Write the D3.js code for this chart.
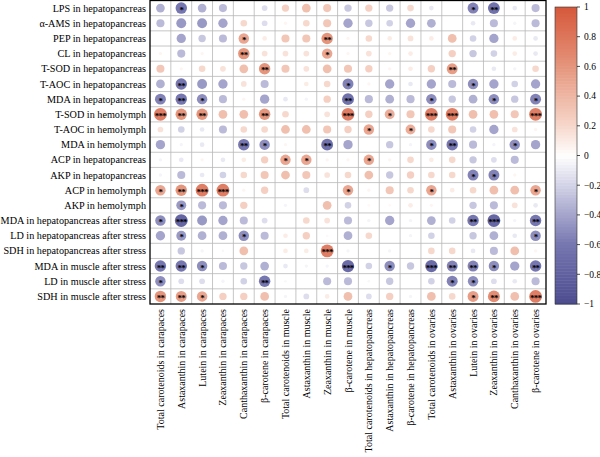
<!DOCTYPE html>
<html>
<head>
<meta charset="utf-8">
<script src="https://cdn.jsdelivr.net/npm/d3@7"></script>
<style>
  body { margin: 0; background: #fff; }
  text { font-family: "Liberation Serif", "DejaVu Serif", serif; }
</style>
</head>
<body>
<svg id="chart" width="600" height="457"></svg>
<script>
// row variables (indices)
const rowLabels = [
  "LPS in hepatopancreas", "\u03b1-AMS in hepatopancreas", "PEP in hepatopancreas",
  "CL in hepatopancreas", "T-SOD in hepatopancreas", "T-AOC in hepatopancreas",
  "MDA in hepatopancreas", "T-SOD in hemolymph", "T-AOC in hemolymph", "MDA in hemolymph",
  "ACP in hepatopancreas", "AKP in hepatopancreas", "ACP in hemolymph", "AKP in hemolymph",
  "MDA in hepatopancreas after stress", "LD in hepatopancreas after stress",
  "SDH in hepatopancreas after stress", "MDA in muscle after stress",
  "LD in muscle after stress", "SDH in muscle after stress"
];

// carotenoid columns
const colLabels = [
  "Total carotenoids in carapaces", "Astaxanthin in carapaces", "Lutein in carapaces",
  "Zeaxanthin in carapaces", "Canthaxanthin in carapaces", "\u03b2-carotene in carapaces",
  "Total carotenoids in muscle", "Astaxanthin in muscle", "Zeaxanthin in muscle",
  "\u03b2-carotene in muscle", "Total carotenoids in hepatopancreas",
  "Astaxanthin in hepatopancreas", "\u03b2-carotene in hepatopancreas",
  "Total carotenoids in ovaries", "Astaxanthin in ovaries", "Lutein in ovaries",
  "Zeaxanthin in ovaries", "Canthaxanthin in ovaries", "\u03b2-carotene in ovaries"
];

// correlation coefficients, one row per rowLabel
const corr = [
  [-0.35,-0.6,-0.35,-0.3,0,-0.15,0.25,0.35,0.3,-0.25,0.25,-0.25,0.2,-0.1,0,-0.55,-0.65,-0.1,-0.3],
  [-0.3,-0.45,-0.45,-0.4,0.2,-0.15,0.05,0.2,0.3,-0.4,-0.25,-0.2,-0.4,-0.35,0,-0.1,-0.3,-0.05,-0.3],
  [0,-0.4,-0.25,-0.3,0.5,0.1,0.3,0.3,0.6,0.05,0.2,0.1,0.15,0.1,0.35,-0.2,-0.4,0.1,-0.1],
  [0.05,-0.3,0.05,0,0.6,0.15,0.15,0.15,0.5,0.05,0.15,0.05,0.1,0,0.25,-0.25,-0.2,0.1,-0.1],
  [0.3,0.05,0.2,0.15,0.35,0.6,0.3,0.15,0.35,0.3,0.25,0.05,0.1,0.25,0.55,0,-0.1,-0.05,0.2],
  [-0.35,-0.6,-0.45,-0.4,0.15,-0.3,0,0.1,0.2,-0.55,0.05,-0.4,-0.1,-0.4,-0.3,-0.5,-0.4,-0.2,-0.4],
  [-0.55,-0.6,-0.5,-0.3,0.05,-0.4,-0.1,-0.05,0.25,-0.65,-0.3,-0.35,-0.3,-0.5,-0.25,-0.35,-0.5,-0.25,-0.55],
  [0.75,0.6,0.6,0.35,0.35,0.6,0.2,0,0.15,0.75,0.25,0.45,0.3,0.75,0.75,0.35,0.35,0.3,0.75],
  [0.15,-0.2,-0.1,-0.3,0.2,0.2,0.35,0.35,0.3,0.25,0.5,0,0.45,0.2,0.3,-0.2,-0.4,0.15,0.05],
  [-0.4,-0.05,-0.1,0,-0.6,-0.5,0.05,0,-0.65,-0.4,0,-0.25,-0.05,-0.5,-0.6,-0.3,-0.05,-0.5,-0.4],
  [-0.05,-0.1,0.05,-0.1,0.1,0.25,0.5,0.5,0.05,0.05,0.5,0.05,0.2,0.1,0.2,-0.25,-0.15,-0.3,0],
  [-0.05,-0.3,-0.1,-0.2,0.2,0.3,0.35,0.3,0.15,0.2,0.35,-0.25,0.25,0.2,0.2,-0.55,-0.55,0.05,0],
  [0.5,0.6,0.75,0.75,0.05,0.25,0,-0.15,0,0.5,0.05,0.3,0.2,0.5,0.1,0.2,0.35,0.35,0.5],
  [0,-0.45,-0.3,-0.3,0.25,0,-0.05,0,0.35,-0.2,0.03,0.03,0.1,0.05,0,-0.25,-0.3,0.15,-0.1],
  [-0.5,-0.75,-0.45,-0.4,-0.3,-0.15,0,0.2,0.15,-0.3,-0.05,-0.4,-0.05,-0.35,-0.2,-0.6,-0.75,-0.05,-0.6],
  [-0.4,-0.45,-0.35,-0.35,-0.5,-0.3,0.1,0.25,0.03,-0.35,0.2,0,-0.05,-0.2,0,-0.25,-0.35,-0.1,-0.5],
  [0,-0.25,-0.05,-0.03,0.35,0,0.1,0.1,0.75,-0.05,0,-0.05,0,0.2,0.2,-0.1,-0.3,0.35,0.05],
  [-0.6,-0.6,-0.5,-0.3,-0.25,-0.35,-0.1,-0.05,-0.05,-0.7,-0.2,-0.5,-0.25,-0.7,-0.55,-0.55,-0.5,-0.4,-0.6],
  [-0.5,-0.15,-0.15,-0.05,-0.2,-0.6,-0.03,0,-0.3,-0.3,-0.03,-0.25,0,-0.2,-0.55,-0.5,-0.15,-0.1,-0.3],
  [0.6,0.55,0.5,0.25,0.25,0.35,-0.05,-0.15,0.1,0.35,-0.15,0.25,-0.05,0.35,0.2,0.55,0.65,0.35,0.75]
];

// significance stars: [row, col, count]
const stars = [
  [0,1,1],[0,15,1],[0,16,2],
  [2,4,1],[2,8,2],
  [3,4,2],[3,8,1],
  [4,5,2],[4,14,2],
  [5,1,2],[5,9,1],[5,15,1],
  [6,0,1],[6,1,2],[6,2,1],[6,9,2],[6,13,1],[6,16,1],[6,18,1],
  [7,0,3],[7,1,2],[7,2,2],[7,5,2],[7,9,3],[7,11,1],[7,13,3],[7,14,3],[7,18,3],
  [8,10,1],[8,12,1],
  [9,4,2],[9,5,1],[9,8,2],[9,13,1],[9,14,2],[9,17,1],
  [10,6,1],[10,7,1],[10,10,1],
  [11,15,1],[11,16,1],
  [12,0,1],[12,1,2],[12,2,3],[12,3,3],[12,9,1],[12,13,1],[12,18,1],
  [13,1,1],
  [14,0,1],[14,1,3],[14,15,2],[14,16,3],[14,18,2],
  [15,1,1],[15,4,1],[15,18,1],
  [16,8,3],
  [17,0,2],[17,1,2],[17,2,1],[17,9,3],[17,11,1],[17,13,3],[17,14,2],[17,15,2],[17,16,1],[17,18,2],
  [18,0,1],[18,5,2],[18,14,1],[18,15,1],
  [19,0,2],[19,1,2],[19,2,1],[19,15,1],[19,16,2],[19,18,3]
];

const legendTicks = [1, 0.8, 0.6, 0.4, 0.2, 0, -0.2, -0.4, -0.6, -0.8, -1];

const svg = d3.select("#chart");
const grid = {left: 150, right: 546, top: 0.5, bottom: 304};

const x = d3.scaleBand().domain(d3.range(colLabels.length)).range([grid.left, grid.right]);
const y = d3.scaleBand().domain(d3.range(rowLabels.length)).range([grid.top, grid.bottom]);

const color = d3.scaleLinear()
  .domain([-1, -0.6, -0.2, 0, 0.2, 0.6, 1])
  .range(["#4b4b8f", "#7676b0", "#d2d2e7", "#ffffff", "#f7d8cc", "#e5957c", "#d6583b"]);

const maxR = Math.min(x.bandwidth(), y.bandwidth()) / 2 - 0.2;
const radius = v => maxR * Math.sqrt(Math.abs(v));

// flatten matrix
const cells = [];
corr.forEach((row, i) => row.forEach((v, j) => cells.push({i, j, v})));

// grid lines
const g = svg.append("g");
g.selectAll(".vline")
  .data(d3.range(1, colLabels.length))
  .join("line")
  .attr("x1", d => x(d)).attr("x2", d => x(d))
  .attr("y1", grid.top).attr("y2", grid.bottom)
  .attr("stroke", "#b8b8b8").attr("stroke-width", 0.8);
g.selectAll(".hline")
  .data(d3.range(1, rowLabels.length))
  .join("line")
  .attr("x1", grid.left).attr("x2", grid.right)
  .attr("y1", d => y(d)).attr("y2", d => y(d))
  .attr("stroke", "#b8b8b8").attr("stroke-width", 0.8);

// circles
g.selectAll("circle")
  .data(cells)
  .join("circle")
  .attr("cx", d => x(d.j) + x.bandwidth() / 2)
  .attr("cy", d => y(d.i) + y.bandwidth() / 2)
  .attr("r", d => radius(d.v))
  .attr("fill", d => color(d.v));

// stars
g.selectAll(".star")
  .data(stars)
  .join("text")
  .attr("x", d => x(d[1]) + x.bandwidth() / 2)
  .attr("y", d => y(d[0]) + y.bandwidth() / 2 + 4.6)
  .attr("text-anchor", "middle")
  .attr("font-size", 9)
  .attr("font-weight", "bold")
  .attr("letter-spacing", -0.8)
  .attr("fill", "#000")
  .text(d => "*".repeat(d[2]));

// outer border
g.append("rect")
  .attr("x", grid.left).attr("y", grid.top)
  .attr("width", grid.right - grid.left).attr("height", grid.bottom - grid.top)
  .attr("fill", "none").attr("stroke", "#000").attr("stroke-width", 1.3);

// row labels
svg.selectAll(".rowlab")
  .data(rowLabels)
  .join("text")
  .attr("x", grid.left - 4)
  .attr("y", (d, i) => y(i) + y.bandwidth() / 2)
  .attr("dy", "0.35em")
  .attr("text-anchor", "end")
  .attr("font-size", 10.2)
  .text(d => d);

// column labels
svg.selectAll(".collab")
  .data(colLabels)
  .join("text")
  .attr("transform", (d, i) => `translate(${x(i) + x.bandwidth() / 2},${grid.bottom + 5}) rotate(-90)`)
  .attr("dy", "0.35em")
  .attr("text-anchor", "end")
  .attr("font-size", 10)
  .text(d => d);

// colour legend
const ly = d3.scaleLinear().domain([1, -1]).range([7, 304]);
const lg = svg.append("g");
const steps = d3.range(-1, 1.0001, 0.02);
lg.selectAll("rect")
  .data(steps)
  .join("rect")
  .attr("x", 555)
  .attr("y", d => ly(Math.min(1, d + 0.02)))
  .attr("width", 22)
  .attr("height", d => ly(d) - ly(Math.min(1, d + 0.02)) + 0.5)
  .attr("fill", d => color(d + 0.01));
lg.append("rect")
  .attr("x", 555).attr("y", ly(1)).attr("width", 22).attr("height", ly(-1) - ly(1))
  .attr("fill", "none").attr("stroke", "#333").attr("stroke-width", 0.6);
lg.selectAll("line")
  .data(legendTicks)
  .join("line")
  .attr("x1", 577).attr("x2", 580)
  .attr("y1", d => ly(d)).attr("y2", d => ly(d))
  .attr("stroke", "#000").attr("stroke-width", 0.7);
lg.selectAll("text")
  .data(legendTicks)
  .join("text")
  .attr("x", 584)
  .attr("y", d => ly(d))
  .attr("dy", "0.35em")
  .attr("font-size", 9.5)
  .text(d => d < 0 ? "\u2212" + Math.abs(d) : String(d));
</script>
</body>
</html>
